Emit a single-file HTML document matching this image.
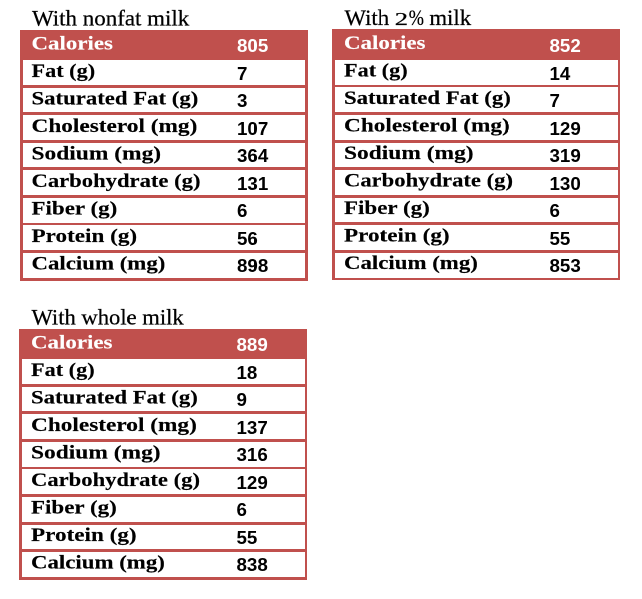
<!DOCTYPE html>
<html lang="en">
<head>
<meta charset="utf-8">
<title>Nutrition by milk type</title>
<style>
*{box-sizing:border-box}
html,body{margin:0;padding:0;background:#fff}
body{width:642px;height:599px;position:relative;overflow:hidden;color:#000}
.stage{position:absolute;left:0;top:0;width:1284px;height:1198px;transform:scale(.5);transform-origin:0 0;will-change:transform}
.blk{position:absolute;margin:0}
.cap{position:absolute;margin:0;height:52px;line-height:52px;font-family:"Liberation Serif", "DejaVu Serif", serif;font-weight:normal;font-size:44px;white-space:nowrap;transform-origin:0 50%;-webkit-text-stroke:0.5px #000}
.os,.pc{display:inline-block;transform-origin:0 50%}
.os{font-size:.82em;transform:scaleX(1.42);margin-right:.23em}
.pc{transform:scaleX(.8);margin-right:-.17em}
table{position:absolute;left:0;top:0;border-collapse:separate;border-spacing:0;border:0 solid #c0504d;border-left-width:6px;table-layout:fixed}
td,th{padding:0;border:0 solid #c0504d;border-top-width:var(--b);vertical-align:top;position:relative;text-align:left;height:inherit}
tr{--n:0px}
tr:nth-child(even){--n:1px}
tr.h th,tr.h td{color:#fff;background:#c0504d}
th{width:410px}
.t{display:block;position:absolute;white-space:nowrap;transform-origin:0 50%;height:44px;line-height:44px;font-weight:bold}
th .t{left:calc(var(--dx) + 17px);top:calc(var(--o) - var(--b) + 5px);font-family:"Liberation Serif", "DejaVu Serif", serif;font-size:37.4px;-webkit-text-stroke:0.3px currentColor}
td .t{left:calc(var(--dx) + 18px);top:calc(var(--o) - var(--b) + var(--n) + var(--nd) + 10px);font-family:"Liberation Sans", "DejaVu Sans", sans-serif;font-size:36.4px;transform:scaleX(1.03)}
th .s0{transform:scaleX(1.226)}
th .s1{transform:scaleX(1.19)}
th .s2{transform:scaleX(1.217)}
th .s3{transform:scaleX(1.246)}
th .s4{transform:scaleX(1.254)}
th .s5{transform:scaleX(1.21)}
th .s6{transform:scaleX(1.23)}
th .s7{transform:scaleX(1.238)}
th .s8{transform:scaleX(1.222)}
</style>
</head>
<body>
<main class="stage">
<section class="blk" style="left:40px;top:60px;width:576px;height:502px;--dx:0px;--nd:0px">
<h2 class="cap" style="left:24px;top:-49px;transform:scaleX(1.044)">With nonfat milk</h2>
<table style="width:576px;border-right-width:6px;border-bottom-width:6px">
<tr class="h" style="height:54px;--b:6px;--o:0px"><th scope="row"><span class="t s0">Calories</span></th><td><span class="t">805</span></td></tr>
<tr style="height:56px;--b:6px;--o:1px"><th scope="row"><span class="t s1">Fat (g)</span></th><td><span class="t">7</span></td></tr>
<tr style="height:54px;--b:6px;--o:0px"><th scope="row"><span class="t s2">Saturated Fat (g)</span></th><td><span class="t">3</span></td></tr>
<tr style="height:56px;--b:6px;--o:1px"><th scope="row"><span class="t s3">Cholesterol (mg)</span></th><td><span class="t">107</span></td></tr>
<tr style="height:54px;--b:6px;--o:0px"><th scope="row"><span class="t s4">Sodium (mg)</span></th><td><span class="t">364</span></td></tr>
<tr style="height:56px;--b:6px;--o:1px"><th scope="row"><span class="t s5">Carbohydrate (g)</span></th><td><span class="t">131</span></td></tr>
<tr style="height:56px;--b:6px;--o:0px"><th scope="row"><span class="t s6">Fiber (g)</span></th><td><span class="t">6</span></td></tr>
<tr style="height:54px;--b:4px;--o:-1px"><th scope="row"><span class="t s7">Protein (g)</span></th><td><span class="t">56</span></td></tr>
<tr style="height:56px;--b:6px;--o:0px"><th scope="row"><span class="t s8">Calcium (mg)</span></th><td><span class="t">898</span></td></tr>
</table>
</section>
<section class="blk" style="left:664px;top:58px;width:576px;height:502px;--dx:1px;--nd:1px">
<h2 class="cap" style="left:25px;top:-48px;transform:scaleX(1.036)">With <span class="os">2</span><span class="pc">%</span> milk</h2>
<table style="width:576px;border-right-width:4px;border-bottom-width:4px">
<tr class="h" style="height:56px;--b:6px;--o:1px"><th scope="row"><span class="t s0">Calories</span></th><td><span class="t">852</span></td></tr>
<tr style="height:56px;--b:6px;--o:0px"><th scope="row"><span class="t s1">Fat (g)</span></th><td><span class="t">14</span></td></tr>
<tr style="height:54px;--b:4px;--o:-1px"><th scope="row"><span class="t s2">Saturated Fat (g)</span></th><td><span class="t">7</span></td></tr>
<tr style="height:56px;--b:6px;--o:0px"><th scope="row"><span class="t s3">Cholesterol (mg)</span></th><td><span class="t">129</span></td></tr>
<tr style="height:54px;--b:6px;--o:-1px"><th scope="row"><span class="t s4">Sodium (mg)</span></th><td><span class="t">319</span></td></tr>
<tr style="height:56px;--b:6px;--o:0px"><th scope="row"><span class="t s5">Carbohydrate (g)</span></th><td><span class="t">130</span></td></tr>
<tr style="height:54px;--b:6px;--o:-1px"><th scope="row"><span class="t s6">Fiber (g)</span></th><td><span class="t">6</span></td></tr>
<tr style="height:56px;--b:6px;--o:0px"><th scope="row"><span class="t s7">Protein (g)</span></th><td><span class="t">55</span></td></tr>
<tr style="height:56px;--b:6px;--o:-1px"><th scope="row"><span class="t s8">Calcium (mg)</span></th><td><span class="t">853</span></td></tr>
</table>
</section>
<section class="blk" style="left:38px;top:658px;width:576px;height:502px;--dx:1px;--nd:0px">
<h2 class="cap" style="left:25px;top:-49px;transform:scaleX(1.027)">With whole milk</h2>
<table style="width:576px;border-right-width:4px;border-bottom-width:6px">
<tr class="h" style="height:54px;--b:6px;--o:0px"><th scope="row"><span class="t s0">Calories</span></th><td><span class="t">889</span></td></tr>
<tr style="height:56px;--b:6px;--o:1px"><th scope="row"><span class="t s1">Fat (g)</span></th><td><span class="t">18</span></td></tr>
<tr style="height:54px;--b:6px;--o:0px"><th scope="row"><span class="t s2">Saturated Fat (g)</span></th><td><span class="t">9</span></td></tr>
<tr style="height:56px;--b:6px;--o:1px"><th scope="row"><span class="t s3">Cholesterol (mg)</span></th><td><span class="t">137</span></td></tr>
<tr style="height:56px;--b:6px;--o:0px"><th scope="row"><span class="t s4">Sodium (mg)</span></th><td><span class="t">316</span></td></tr>
<tr style="height:54px;--b:4px;--o:-1px"><th scope="row"><span class="t s5">Carbohydrate (g)</span></th><td><span class="t">129</span></td></tr>
<tr style="height:56px;--b:6px;--o:0px"><th scope="row"><span class="t s6">Fiber (g)</span></th><td><span class="t">6</span></td></tr>
<tr style="height:54px;--b:6px;--o:-1px"><th scope="row"><span class="t s7">Protein (g)</span></th><td><span class="t">55</span></td></tr>
<tr style="height:56px;--b:6px;--o:0px"><th scope="row"><span class="t s8">Calcium (mg)</span></th><td><span class="t">838</span></td></tr>
</table>
</section>
</main>
</body>
</html>
